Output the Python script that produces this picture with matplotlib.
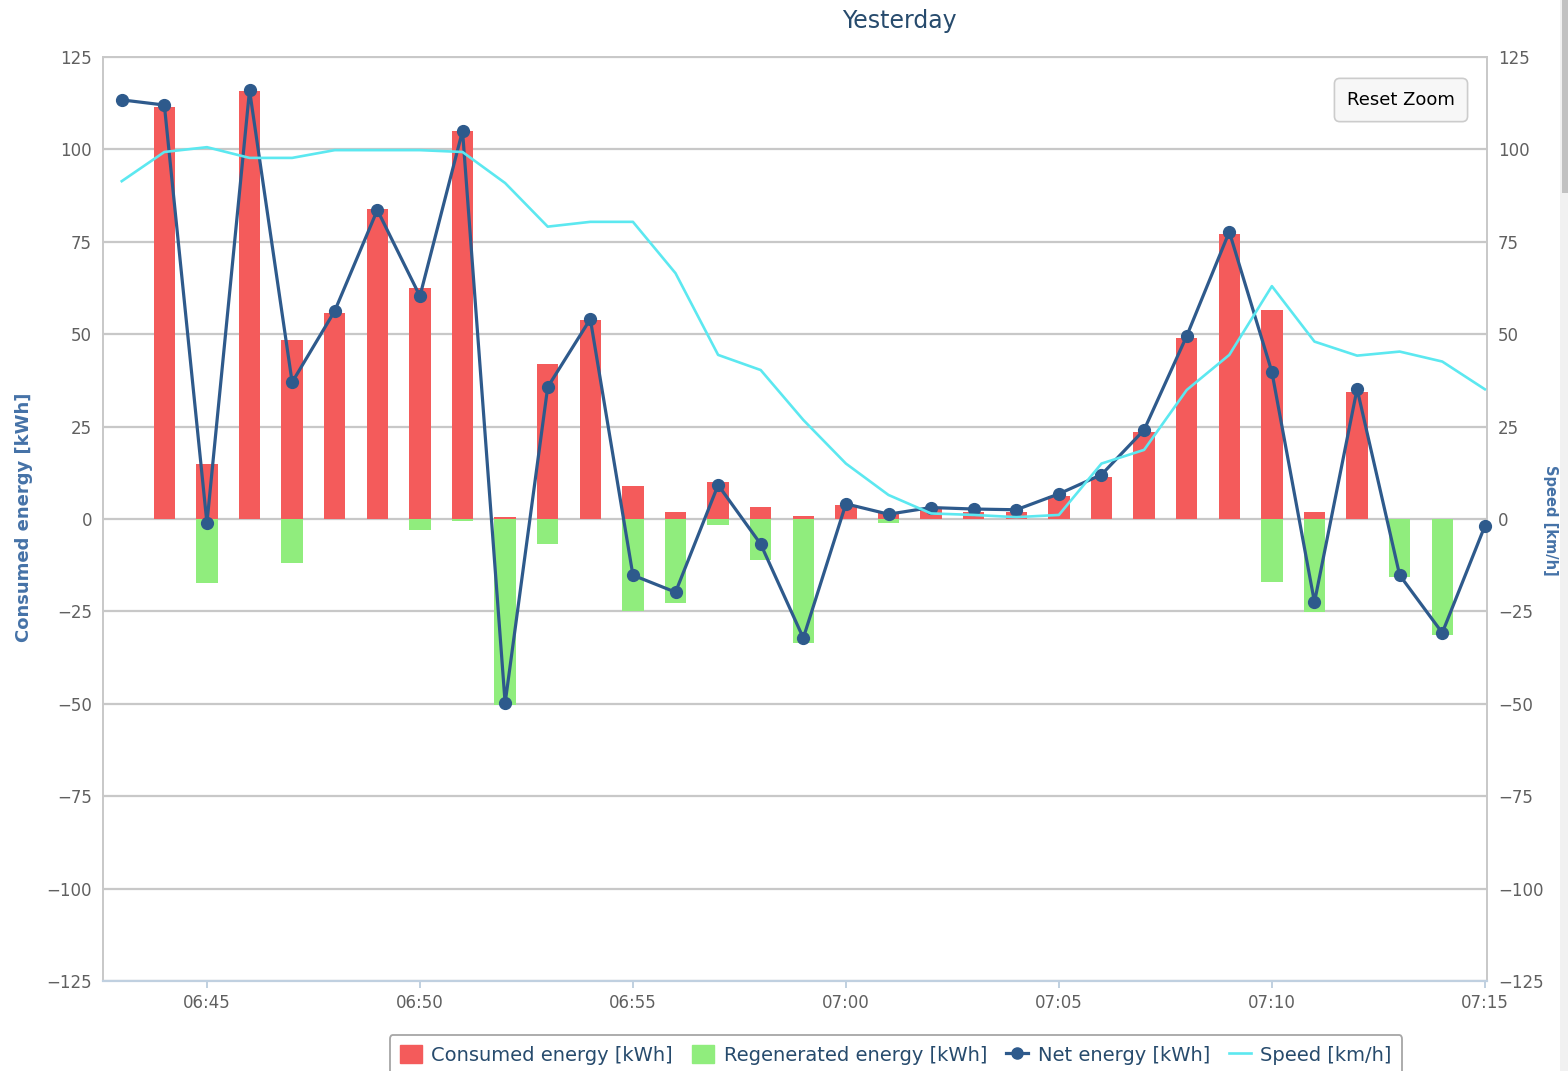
import matplotlib
matplotlib.use('Agg')
import matplotlib.pyplot as plt
from matplotlib.patches import Rectangle, Patch
from matplotlib.lines import Line2D
from matplotlib.ticker import FuncFormatter

# time axis: minutes after midnight, 06:43 .. 07:15
start_minute = 6 * 60 + 43
n_points = 33
minutes = [start_minute + i for i in range(n_points)]
bar_minutes = minutes[1:-1]  # 06:44 .. 07:14

consumed = [111.5, 15, 115.8, 48.4, 55.7, 83.9, 62.5, 105, 0.6, 42, 53.8, 9, 2, 10,
            3.3, 0.8, 3.8, 1.6, 3, 2, 2, 6.2, 11.4, 23.6, 49, 77.1, 56.5, 1.9, 34.4, 0, 0]
regenerated = [0, -17.3, 0, -11.9, 0, 0, -3, -0.5, -50.3, -6.8, 0, -25, -22.7, -1.6,
               -11, -33.5, 0, -1.1, 0, 0, 0, 0, 0, 0, 0, 0, -17, -25.2, 0, -15.7, -31.4]
net = [113.4, 112, -1.1, 116, 37, 56.3, 83.6, 60.3, 105, -49.8, 35.7, 54.1, -15.2,
       -19.8, 9.2, -6.8, -32.2, 4.1, 1.3, 3.1, 2.7, 2.5, 6.8, 12, 24.1, 49.5, 77.7,
       39.8, -22.5, 35.2, -15.2, -30.8, -1.9]
speed = [91.4, 99.3, 100.6, 97.7, 97.7, 99.8, 99.8, 99.8, 99.3, 90.9, 79.1, 80.4, 80.4,
         66.5, 44.4, 40.3, 26.8, 15, 6.5, 1.5, 1.1, 0.5, 1.1, 15, 18.7, 34.9, 44.4, 63,
         48, 44.2, 45.3, 42.6, 35.1]

y_ticks = [-125, -100, -75, -50, -25, 0, 25, 50, 75, 100, 125]
x_ticks = [6 * 60 + 45 + 5 * i for i in range(7)]

RED = '#f45b5b'
GREEN = '#90ed7d'
NAVY = '#2e5a8c'
CYAN = '#5ce8f0'
GRID = '#c8c8c8'
TICK_TXT = '#606060'
TITLE_C = '#274b6d'

W, H = 1568, 1071
fig = plt.figure(figsize=(W / 100, H / 100), dpi=100)
ax = fig.add_axes([103 / W, 1 - 981 / H, (1487 - 103) / W, (981 - 57) / H])

ax.bar(bar_minutes, consumed, width=0.5, color=RED, zorder=2)
ax.bar(bar_minutes, regenerated, width=0.5, color=GREEN, zorder=2)
ax.plot(minutes, net, color=NAVY, lw=2.3, marker='o', markersize=8.5, zorder=4,
        clip_on=False)

ax.set_xlim(start_minute - 0.44, start_minute + 32.05)
ax.set_ylim(-125, 125)
ax.set_yticks(y_ticks)
ax.set_xticks(x_ticks)
ax.xaxis.set_major_formatter(FuncFormatter(lambda v, p: f"{int(v) // 60:02d}:{int(v) % 60:02d}"))

ax.grid(axis='y', color=GRID, lw=1.6, zorder=0)
ax.set_axisbelow(True)
for side in ['left', 'right', 'top']:
    ax.spines[side].set_color(GRID)
    ax.spines[side].set_linewidth(1.4)
ax.spines['bottom'].set_color('#c0d0e0')
ax.spines['bottom'].set_linewidth(1.6)
ax.tick_params(axis='x', colors='#c0d0e0', length=5, width=1.4, labelcolor=TICK_TXT,
               labelsize=12, pad=4)
ax.tick_params(axis='y', length=0, labelcolor=TICK_TXT, labelsize=12, pad=8)

# speed on the opposite axis, same scale
ax2 = ax.twinx()
ax2.plot(minutes, speed, color=CYAN, lw=1.9, zorder=3)
ax2.set_ylim(-125, 125)
ax2.set_yticks(y_ticks)
ax2.tick_params(axis='y', length=0, labelcolor=TICK_TXT, labelsize=12, pad=8)
for s in ax2.spines.values():
    s.set_visible(False)

fig.text(899 / W, 1 - 21 / H, 'Yesterday', ha='center', va='center', fontsize=17,
         color=TITLE_C)
fig.text(24 / W, 1 - 517 / H, 'Consumed energy [kWh]', rotation=90, ha='center',
         va='center', fontsize=13, fontweight='bold', color='#4572a7')
fig.text(1543 / W, 1 - 520 / H, 'Speed [km/h]', rotation=270, ha='left', va='center',
         fontsize=10.5, fontweight='bold', color='#4572a7')

fig.text(1401 / W, 1 - 100 / H, 'Reset Zoom', ha='center', va='center', fontsize=13,
         color='black', bbox=dict(boxstyle='round,pad=0.7,rounding_size=0.3',
                                  fc='#f7f7f7', ec='#cccccc', lw=1.2))

handles = [
    Patch(facecolor=RED, edgecolor=RED),
    Patch(facecolor=GREEN, edgecolor=GREEN),
    Line2D([], [], color=NAVY, lw=2.3, marker='o', markersize=8),
    Line2D([], [], color=CYAN, lw=1.9),
]
labels = ['Consumed energy [kWh]', 'Regenerated energy [kWh]', 'Net energy [kWh]',
          'Speed [km/h]']
leg = fig.legend(handles, labels, loc='upper center', bbox_to_anchor=(896 / W, 1 - 1025 / H),
                 ncol=4, fontsize=14, frameon=True, fancybox=True, handlelength=1.1,
                 handleheight=1.0, handletextpad=0.5, columnspacing=1.0, borderpad=0.55)
leg.get_frame().set_edgecolor('#909090')
leg.get_frame().set_linewidth(1.3)
for t in leg.get_texts():
    t.set_color(TITLE_C)

# browser scrollbar on the right edge
fig.add_artist(Rectangle((1560 / W, 0), 8 / W, 1, transform=fig.transFigure,
                         facecolor='#f1f1f1', edgecolor='none', zorder=10))
fig.add_artist(Rectangle((1562 / W, 1 - 193 / H), 6 / W, 193 / H, transform=fig.transFigure,
                         facecolor='#c1c1c1', edgecolor='none', zorder=11))

fig.savefig('out.png', dpi=100)
